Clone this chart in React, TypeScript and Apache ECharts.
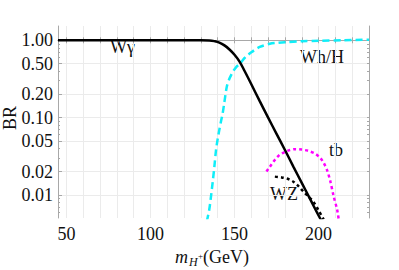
import React, { useEffect, useRef } from "react";
import * as echarts from "echarts";

const wgamma: number[][] = [
  [45, 1], [130, 1], [135, 0.995], [138, 0.975], [141, 0.935], [144, 0.86], [147, 0.76],
  [150, 0.65], [153, 0.53], [156, 0.4], [160, 0.27], [165, 0.163], [170, 0.1],
  [175, 0.0615], [180, 0.038], [185, 0.0232], [190, 0.0143], [195, 0.0088], [200, 0.0054], [202, 0.0045],
];
const whh: number[][] = [
  [133.5, 0.0045], [135, 0.0065], [136, 0.0095], [137, 0.0145], [138, 0.023], [139, 0.038],
  [140, 0.053], [141, 0.07], [142, 0.09], [143, 0.115], [144, 0.16], [145.4, 0.25],
  [147, 0.32], [149, 0.39], [151, 0.45], [153.3, 0.5], [156, 0.59], [160, 0.7], [165, 0.82],
  [171, 0.9], [175, 0.925], [180, 0.945], [190, 0.97], [200, 0.985], [215, 1.0], [230, 1.02],
];
const tb: number[][] = [
  [169, 0.02], [171, 0.023], [173, 0.0265], [175, 0.03], [177, 0.033], [180, 0.036],
  [183, 0.038], [186, 0.039], [190, 0.0385], [194, 0.037], [198, 0.034], [201, 0.03],
  [203, 0.026], [205, 0.021], [207, 0.015], [209, 0.0095], [211, 0.0065], [212, 0.0048],
];
const wz: number[][] = [
  [174, 0.0172], [178, 0.0168], [182, 0.016], [185, 0.0148], [188, 0.013], [191, 0.011],
  [194, 0.0095], [197, 0.0081], [200, 0.0063], [203, 0.0048],
];

const yMajor = [1, 0.5, 0.2, 0.1, 0.05, 0.02, 0.01];
const yMinor = [0.006, 0.007, 0.008, 0.009, 0.03, 0.04, 0.06, 0.07, 0.08, 0.09, 0.3, 0.4, 0.6, 0.7, 0.8, 0.9];
const xLabels = [50, 100, 150, 200];
const xTicks = [50, 60, 70, 80, 90, 100, 110, 120, 130, 140, 150, 160, 170, 180, 190, 200, 210, 220, 230];

const lg = (v: number) => Math.log10(v);
const toLog = (d: number[][]) => d.map(([x, y]) => [x, lg(y)]);

const FONT = "Liberation Serif";
const AX = "#a8a8a8";
const TXT = "#111";

export default function App() {
  const ref = useRef<HTMLDivElement>(null);
  useEffect(() => {
    if (!ref.current) return;
    const chart = echarts.init(ref.current, undefined, { renderer: "svg" });
    const majorLog = yMajor.map(lg);
    const minorLog = yMinor.map(lg);
    chart.setOption({
      animation: false,
      grid: { left: 58, top: 26, right: 30, bottom: 52 },
      xAxis: [
        {
          type: "value", min: 45, max: 230, position: "bottom",
          axisLine: { show: true, lineStyle: { color: AX, width: 1 } },
          axisTick: { show: true, inside: true, length: 3, customValues: xTicks, lineStyle: { color: AX } },
          axisLabel: { customValues: xLabels, fontFamily: FONT, fontSize: 18, color: TXT, margin: 7 },
          splitLine: { show: true, lineStyle: { color: "#ebebeb", width: 1 } },
        },
        {
          type: "value", min: 45, max: 230, position: "top",
          axisLine: { show: true, lineStyle: { color: AX, width: 1 } },
          axisTick: { show: true, inside: true, length: 3, customValues: xTicks, lineStyle: { color: AX } },
          axisLabel: { show: false },
          splitLine: { show: false },
        },
      ],
      yAxis: [
        {
          type: "value", min: -2.3, max: 0.185, position: "left",
          axisLine: { show: true, lineStyle: { color: AX, width: 1 } },
          axisTick: { show: true, inside: true, length: 4, customValues: majorLog, lineStyle: { color: AX } },
          axisLabel: {
            customValues: majorLog, fontFamily: FONT, fontSize: 18, color: TXT, margin: 5,
            formatter: (v: number) => Math.pow(10, v).toFixed(2),
          },
          splitLine: { show: true, lineStyle: { color: "#ebebeb", width: 1 } },
        },
        {
          type: "value", min: -2.3, max: 0.185, position: "left",
          axisLine: { show: false },
          axisTick: { show: true, inside: true, length: 2, customValues: minorLog, lineStyle: { color: AX } },
          axisLabel: { show: false },
          splitLine: { show: false },
        },
        {
          type: "value", min: -2.3, max: 0.185, position: "right",
          axisLine: { show: true, lineStyle: { color: AX, width: 1 } },
          axisTick: { show: true, inside: true, length: 2, customValues: majorLog.concat(minorLog), lineStyle: { color: AX } },
          axisLabel: { show: false },
          splitLine: { show: false },
        },
      ],
      series: [
        {
          type: "line", data: toLog(whh), showSymbol: false, smooth: 0.3,
          lineStyle: { color: "#10eef8", width: 2.5, type: [7, 4] },
        },
        {
          type: "line", data: toLog(tb), showSymbol: false, smooth: 0.3,
          lineStyle: { color: "#ff00ff", width: 2.5, type: [3, 3] },
        },
        {
          type: "line", data: toLog(wz), showSymbol: false, smooth: 0.3,
          lineStyle: { color: "#000", width: 2.5, type: [3, 3] },
        },
        {
          type: "line", data: toLog(wgamma), showSymbol: false, smooth: 0.4,
          lineStyle: { color: "#000", width: 2.5 },
        },
      ],
      graphic: [
        { type: "text", x: 110, y: 47, style: { text: "W\u03b3", font: `18px "${FONT}"`, fill: TXT, verticalAlign: "middle" } },
        { type: "text", x: 300, y: 57, style: { text: "Wh/H", font: `18px "${FONT}"`, fill: TXT, verticalAlign: "middle" } },
        { type: "text", x: 329, y: 150, style: { text: "tb", font: `18px "${FONT}"`, fill: TXT, verticalAlign: "middle" } },
        { type: "text", x: 270, y: 194, style: { text: "WZ", font: `18px "${FONT}"`, fill: TXT, verticalAlign: "middle" } },
        { type: "text", x: 10, y: 118, rotation: Math.PI / 2, style: { text: "BR", font: `18px "${FONT}"`, fill: TXT, align: "center", verticalAlign: "middle" } },
        { type: "text", x: 175, y: 257, style: { text: "m", font: `italic 18px "${FONT}"`, fill: TXT, verticalAlign: "middle" } },
        { type: "text", x: 189, y: 262, style: { text: "H", font: `italic 12px "${FONT}"`, fill: TXT, verticalAlign: "middle" } },
        { type: "text", x: 198, y: 256, style: { text: "+", font: `9px "${FONT}"`, fill: TXT, verticalAlign: "middle" } },
        { type: "text", x: 203, y: 257, style: { text: "(GeV)", font: `18px "${FONT}"`, fill: TXT, verticalAlign: "middle" } },
      ],
    });
    return () => chart.dispose();
  }, []);
  return <div ref={ref} style={{ position: "absolute", left: 0, top: 0, width: 399, height: 270 }} />;
}
